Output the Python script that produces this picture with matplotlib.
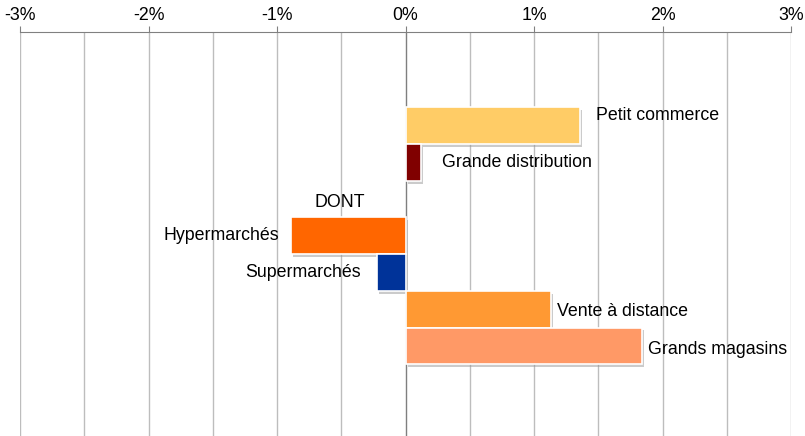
import matplotlib
matplotlib.use("Agg")
import matplotlib.pyplot as plt
import matplotlib.patheffects as pe
from matplotlib.ticker import MultipleLocator, FuncFormatter

plt.rcParams['font.family'] = ['Liberation Sans', 'DejaVu Sans']

# data (% change)
categories = ["Petit commerce", "Grande distribution", "Hypermarchés",
              "Supermarchés", "Vente à distance", "Grands magasins"]
values = [1.36, 0.12, -0.89, -0.22, 1.13, 1.84]
colors = ["#FFCC66", "#800000", "#FF6600", "#003399", "#FF9933", "#FF9966"]
rows = [2, 3, 5, 6, 7, 8]

# label placement (data coords)
label_x = [1.48, 0.285, -0.98, -0.35, 1.18, 1.89]
label_dy = [-0.27, 0.0, 0.0, 0.0, 0.05, 0.1]
label_ha = ["left", "left", "right", "right", "left", "left"]

fig = plt.figure(figsize=(8.05, 4.36), dpi=100)
ax = fig.add_axes([20 / 805, 0, 771 / 805, 1 - 32 / 436])

shadow = [pe.SimplePatchShadow(offset=(1.5, -2), shadow_rgbFace="#999999", alpha=0.5),
          pe.Normal()]
bars = ax.barh(rows, values, height=1.0, color=colors, edgecolor="white",
               linewidth=1.2, zorder=3)
for b in bars:
    b.set_path_effects(shadow)

for i, name in enumerate(categories):
    ax.text(label_x[i], rows[i] + label_dy[i], name, ha=label_ha[i],
            va="center", fontsize=12.8, color="black", zorder=4)
ax.text(-0.51, 4.1, "DONT", ha="center", va="center", fontsize=12.8, zorder=4)

ax.set_xlim(-3, 3)
ax.set_ylim(10.45, -0.55)

# gridlines every 0.5%
for g in [x * 0.5 for x in range(-6, 7)]:
    c = "#7f7f7f" if g == 0 else "#bdbdbd"
    ax.axvline(g, color=c, linewidth=1, zorder=1)

ax.xaxis.set_ticks_position("top")
ax.xaxis.set_major_locator(MultipleLocator(1))
ax.xaxis.set_major_formatter(FuncFormatter(lambda v, p: f"{v:.0f}%"))
ax.tick_params(axis="x", direction="out", length=4, color="#808080",
               labelsize=12.8, pad=2)
ax.set_yticks([])
for s in ["bottom", "left", "right"]:
    ax.spines[s].set_visible(False)
ax.spines["top"].set_color("#808080")

fig.savefig("out.png", dpi=100)
